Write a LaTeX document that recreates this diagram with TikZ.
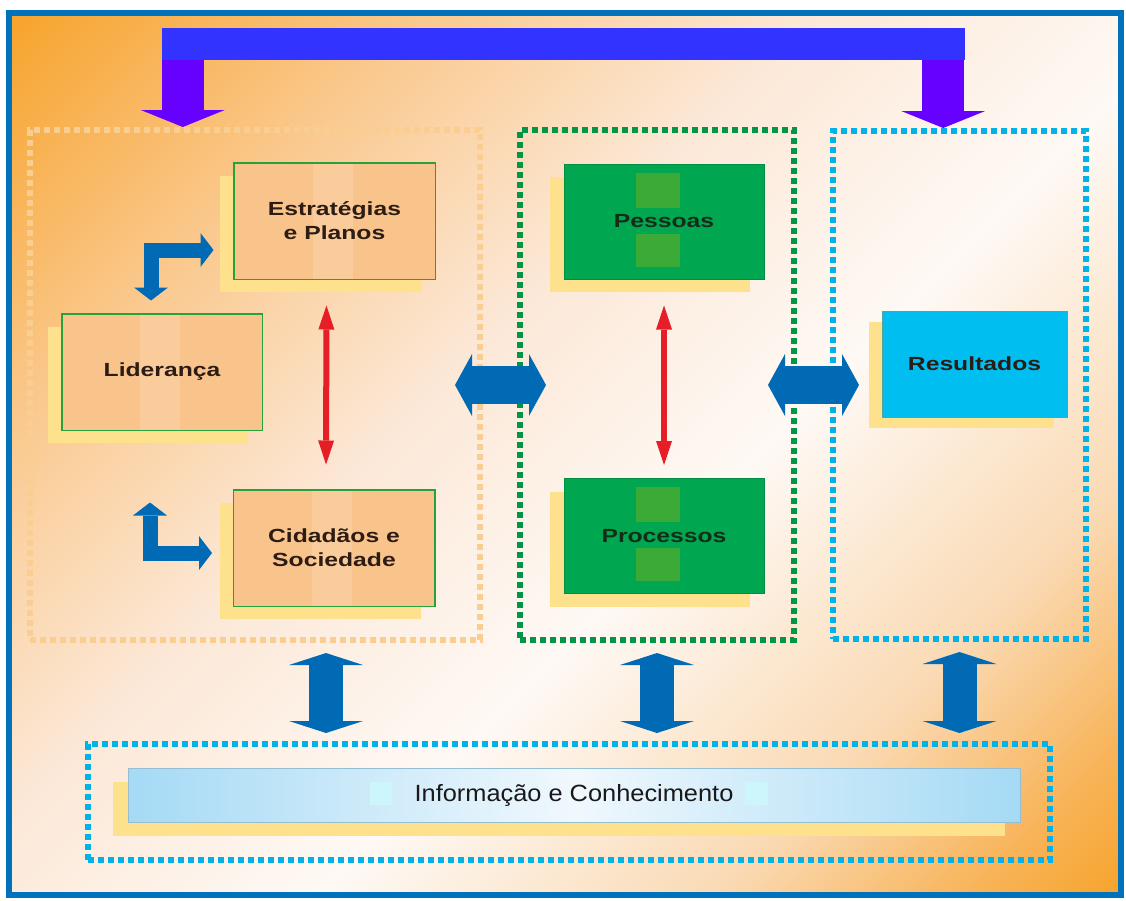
\documentclass[tikz,border=0pt]{standalone}
\usepackage{fontspec}
\setmainfont{Liberation Sans}
\newfontfamily\boxfont{Liberation Sans}[FakeStretch=1.3]
\newfontfamily\infofont{Liberation Sans}[FakeStretch=1.08]
\usetikzlibrary{arrows.meta,shadows}

\definecolor{frameblue}{RGB}{0,114,188}
\definecolor{barblue}{RGB}{51,51,255}
\definecolor{downviolet}{RGB}{102,0,255}
\definecolor{arrowblue}{RGB}{0,106,180}
\definecolor{arrowred}{RGB}{230,30,40}
\definecolor{peachbox}{RGB}{248,196,140}
\definecolor{peachstripe}{RGB}{250,203,155}
\definecolor{shadowyel}{RGB}{253,225,140}
\definecolor{boxgreen}{RGB}{0,166,80}
\definecolor{lightgreen}{RGB}{60,170,55}
\definecolor{edgegreen}{RGB}{40,160,60}
\definecolor{rescyan}{RGB}{0,190,240}
\definecolor{dotorange}{RGB}{250,205,145}
\definecolor{dotgreen}{RGB}{0,150,70}
\definecolor{dotcyan}{RGB}{0,178,232}
\definecolor{infoblue}{RGB}{165,218,245}
\definecolor{infowhite}{RGB}{240,248,253}
\definecolor{infosquare}{RGB}{205,245,252}
\definecolor{textdark}{RGB}{45,28,20}
\definecolor{bgorange}{RGB}{247,162,40}
\definecolor{bglight}{RGB}{250,200,140}
\definecolor{bgpale}{RGB}{252,232,215}
\definecolor{bgwhite}{RGB}{254,249,245}
\definecolor{bgpeach}{RGB}{250,218,180}
\definecolor{bgdeep}{RGB}{248,180,90}

\pgfdeclarehorizontalshading{bgshade}{100bp}{color(0bp)=(bgorange); color(14bp)=(bgorange); color(29bp)=(bglight); color(43bp)=(bgpale); color(57bp)=(bgwhite); color(71bp)=(bgpeach); color(80bp)=(bgdeep); color(86bp)=(bgorange); color(100bp)=(bgorange)}

\tikzset{
  grp/.style={line width=6pt,dash pattern=on 6pt off 4pt},
  pbox/.style={draw=edgegreen,line width=1pt,fill=peachbox,minimum width=201pt,minimum height=116pt,
    align=center,text=textdark,font=\boxfont\bfseries\fontsize{19}{24}\selectfont,
    general shadow={fill=shadowyel,shadow xshift=-14pt,shadow yshift=-13pt},
    path picture={\fill[peachstripe] ([xshift=-22pt]path picture bounding box.north) rectangle ([xshift=18pt]path picture bounding box.south);}},
  gbox/.style={draw=boxgreen!85!black,line width=1pt,fill=boxgreen,minimum width=200pt,minimum height=115pt,
    text={rgb,255:red,20;green,45;blue,25},font=\boxfont\bfseries\fontsize{19}{24}\selectfont,
    general shadow={fill=shadowyel,shadow xshift=-14pt,shadow yshift=-13pt},
    path picture={\fill[lightgreen] ([shift={(-28pt,14pt)}]path picture bounding box.center) rectangle ([shift={(16pt,49pt)}]path picture bounding box.center);
      \fill[lightgreen] ([shift={(-28pt,-12pt)}]path picture bounding box.center) rectangle ([shift={(16pt,-45pt)}]path picture bounding box.center);}},
  downarr/.style={draw=downviolet,line width=42pt,-{Triangle[width=84pt,length=17pt,line width=0pt]}},
  hdbl/.style={draw=arrowblue,line width=38pt,{Triangle[width=62pt,length=17pt,line width=0pt]}-{Triangle[width=62pt,length=17pt,line width=0pt]}},
  vdbl/.style={draw=arrowblue,line width=34pt,shorten <=10pt,shorten >=8pt,{Triangle[width=74pt,length=12pt,line width=0pt]}-{Triangle[width=74pt,length=12pt,line width=0pt]}},
  elbarr/.style={draw=arrowblue,line width=15pt,line join=miter,{Triangle[width=34pt,length=13pt,line width=0pt]}-{Triangle[width=34pt,length=13pt,line width=0pt]}},
  redarr/.style={draw=arrowred,line width=6pt,{Triangle[width=16pt,length=24pt,line width=0pt]}-{Triangle[width=16pt,length=24pt,line width=0pt]}}
}

\begin{document}
\begin{tikzpicture}[x=1pt,y=-1pt]
\useasboundingbox (0,0) rectangle (1126,900);
\fill[white] (0,0) rectangle (1126,900);
\shade[shading=bgshade,shading angle=-45] (9,13) rectangle (1121,895);
\draw[frameblue,line width=6pt] (9,13) rectangle (1121,895);

\node[fill=barblue,minimum width=803pt,minimum height=32pt,inner sep=0pt] (topbar) at (563.5,44) {};

\node[grp,draw=dotorange,minimum width=450pt,minimum height=510pt] (grpL) at (255,385) {};
\node[grp,draw=dotgreen,minimum width=274pt,minimum height=510pt] (grpM) at (657,385) {};
\node[grp,draw=dotcyan,minimum width=253pt,minimum height=508pt] (grpR) at (959.5,385) {};
\node[grp,draw=dotcyan,minimum width=962pt,minimum height=116pt] (grpI) at (569,802) {};

\node[pbox] (estr) at (334.5,221) {Estratégias\\e Planos};
\node[pbox,minimum width=200pt] (lid) at (162,372) {Liderança};
\node[pbox] (cid) at (334,548) {Cidadãos e\\Sociedade};
\foreach \n in {estr,lid,cid}
\draw[edgegreen,line width=1pt] (\n.north west) rectangle (\n.south east);
\node[gbox] (pess) at (664,221.5) {Pessoas};
\node[gbox] (proc) at (664,536) {Processos};
\node[draw=teal!70,line width=1pt,fill=rescyan,minimum width=185pt,minimum height=106pt,
  text=textdark,font=\boxfont\bfseries\fontsize{19}{24}\selectfont,
  general shadow={fill=shadowyel,shadow xshift=-13pt,shadow yshift=-11pt}] (res) at (974.5,364) {Resultados};
\node[draw={rgb,255:red,150;green,190;blue,210},line width=0.8pt,minimum width=892pt,minimum height=54pt,
  left color=infoblue,right color=infoblue,middle color=infowhite,
  text={rgb,255:red,25;green,25;blue,25},font=\infofont\fontsize{23.5}{28}\selectfont,
  general shadow={fill=shadowyel,shadow xshift=-15pt,shadow yshift=-14pt},
  path picture={\fill[infosquare] ([shift={(-204pt,13pt)}]path picture bounding box.center) rectangle ([shift={(-182pt,-10pt)}]path picture bounding box.center);
    \fill[infosquare] ([shift={(171pt,13pt)}]path picture bounding box.center) rectangle ([shift={(194pt,-10pt)}]path picture bounding box.center);}]
  (info) at (574,795) {Informação e Conhecimento\hspace{14pt}};

\draw[downarr] ([xshift=21pt]topbar.south west) -- ([xshift=21pt]topbar.south west |- grpL.north);
\draw[downarr] ([xshift=-22pt]topbar.south east) -- ([xshift=-22pt]topbar.south east |- grpR.north);

\draw[elbarr] ([xshift=-11pt,yshift=13pt]lid.north) |- ([xshift=-20pt,yshift=-29pt]estr.west);
\draw[elbarr] ([xshift=-12pt,yshift=-72pt]lid.south) |- ([xshift=-21pt,yshift=-5pt]cid.west);

\draw[redarr,shorten <=26pt,shorten >=25pt] ([xshift=-8pt]estr.south) -- ([xshift=-8pt]cid.north);
\draw[redarr,shorten <=26pt,shorten >=13pt] (pess.south) -- (proc.north);

\draw[hdbl] ([xshift=-28pt]grpL.east) -- ([xshift=29pt]grpM.west);
\draw[hdbl] ([xshift=-29pt]grpM.east) -- ([xshift=29pt]grpR.west);

\draw[vdbl] ([xshift=-8pt]cid.south |- grpL.south) -- ([xshift=-8pt]cid.south |- grpI.north);
\foreach \from in {grpM,grpR}
\draw[vdbl] (\from.south) -- (\from.south |- grpI.north);
\end{tikzpicture}
\end{document}
